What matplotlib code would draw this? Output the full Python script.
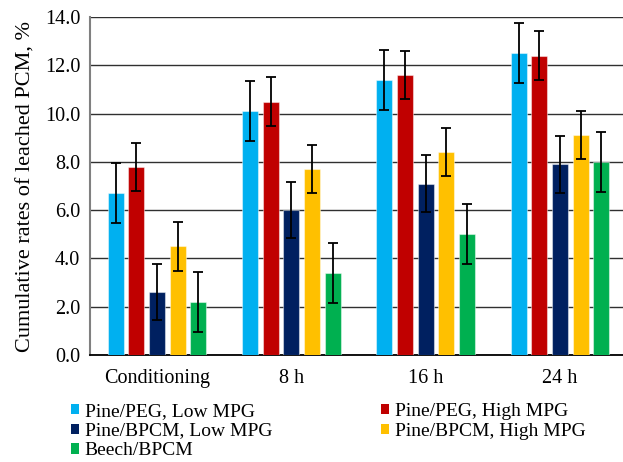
import matplotlib.pyplot as plt
import numpy as np
from matplotlib.patches import Patch

# data
groups = ['Conditioning', '8 h', '16 h', '24 h']
series = ['Pine/PEG, Low MPG', 'Pine/PEG, High MPG', 'Pine/BPCM, Low MPG',
          'Pine/BPCM, High MPG', 'Beech/BPCM']
pine_peg_low = [6.7, 10.1, 11.4, 12.5]
pine_peg_high = [7.8, 10.5, 11.6, 12.4]
pine_bpcm_low = [2.6, 6.0, 7.1, 7.9]
pine_bpcm_high = [4.5, 7.7, 8.4, 9.1]
beech_bpcm = [2.2, 3.4, 5.0, 8.0]
errors = [1.25, 1.0, 1.17, 1.0, 1.25]
colors = ['#00B0F0', '#C00000', '#002060', '#FFC000', '#00B050']

values = [pine_peg_low, pine_peg_high, pine_bpcm_low, pine_bpcm_high, beech_bpcm]

plt.rcParams['font.family'] = ['Liberation Serif', 'DejaVu Serif']

fig = plt.figure(figsize=(6.23, 4.62), dpi=100)
ax = fig.add_axes([90/623, 107/462, 537/623, 338/462])

x = np.arange(len(groups))
step = 0.154
w = 0.119
for i, vals in enumerate(values):
    ax.bar(x + (i - 2) * step, vals, w, color=colors[i],
           edgecolor=(1, 1, 1, 0.45), linewidth=0.8, zorder=3)
    ax.errorbar(x + (i - 2) * step, vals, yerr=errors[i], fmt='none',
                ecolor='black', elinewidth=1.3, capsize=3.3, capthick=1.3, zorder=4)

ax.set_xlim(-0.5, 3.5)
ax.set_ylim(0, 14)
ax.set_yticks(np.arange(0, 14.1, 2))
ax.set_yticklabels(['%.1f' % v for v in np.arange(0, 14.1, 2)])
ax.set_xticks(x)
ax.set_xticklabels(groups)
ax.tick_params(axis='both', length=0, labelsize=14.5)
ax.tick_params(axis='y', pad=7)
ax.tick_params(axis='x', pad=10)
ax.yaxis.grid(True, color='#303030', linewidth=1.0, zorder=0)
ax.set_axisbelow(True)
for s in ['top', 'right']:
    ax.spines[s].set_visible(False)
ax.spines['left'].set_color('#808080')
ax.spines['left'].set_linewidth(1.5)
ax.spines['bottom'].set_color('black')
ax.spines['bottom'].set_linewidth(1.3)
ax.set_ylabel('Cumulative rates of leached PCM, %', fontsize=16, labelpad=7)

# legend fills column first, so reorder to get row order of the reference
order = [0, 2, 4, 1, 3]
handles = [Patch(facecolor=colors[i], label=series[i]) for i in order]
fig.legend(handles=handles, ncol=2, loc='upper left', bbox_to_anchor=(57/623, 1 - 389/462),
           frameon=False, fontsize=14, handlelength=0.42, handleheight=0.42,
           handletextpad=0.3, labelspacing=0.15, columnspacing=5.6, borderpad=0.2)

fig.savefig('out.png', dpi=100)
